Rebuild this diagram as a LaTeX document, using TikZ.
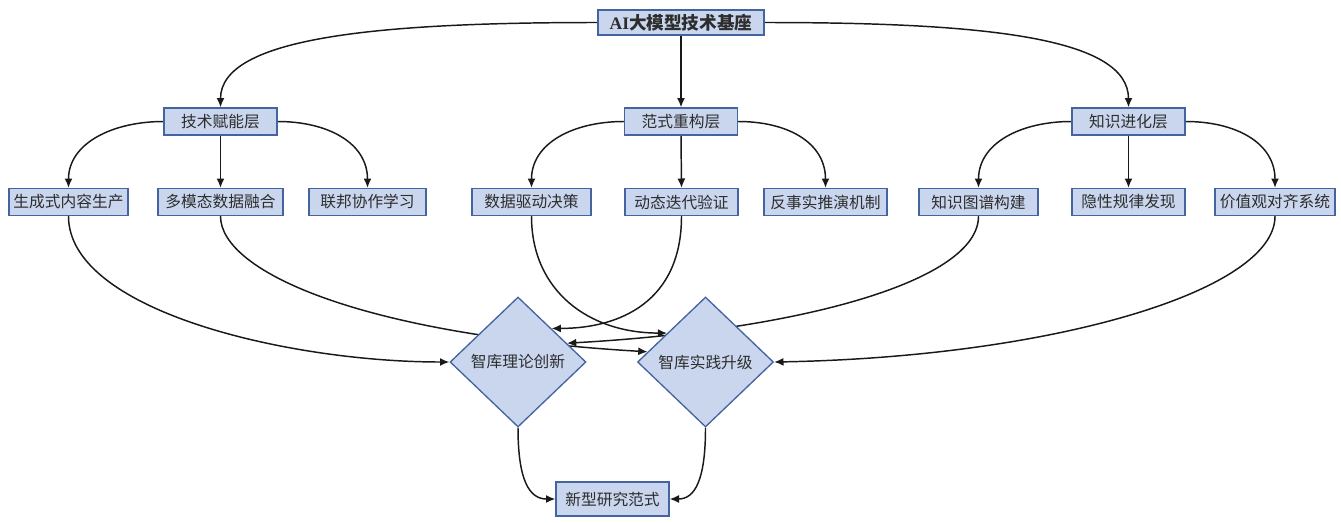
\documentclass[tikz,border=0pt]{standalone}
\usepackage{fontspec}
\setmainfont{Noto Sans CJK SC}
\newfontfamily\latinserif{Liberation Serif}
\usetikzlibrary{shapes.geometric,arrows.meta,backgrounds}
\definecolor{boxfill}{RGB}{201,214,238}
\definecolor{boxdraw}{RGB}{68,100,160}
\definecolor{txt}{RGB}{45,45,45}
\definecolor{edge}{RGB}{25,25,25}
\tikzset{
  box/.style={draw=boxdraw,fill=boxfill,line width=1pt,text=txt,font=\fontsize{11.8pt}{13pt}\selectfont,
    inner xsep=3pt,inner ysep=0pt,minimum height=20.25pt,minimum width=84.75pt},
  topbox/.style={box,font=\fontsize{13.2pt}{14pt}\selectfont\bfseries,minimum width=124.5pt,minimum height=18.75pt},
  dia/.style={diamond,draw=boxdraw,fill=boxfill,line width=1pt,text=txt,font=\fontsize{11.8pt}{13pt}\selectfont,
    inner sep=0pt,minimum width=102pt,minimum height=97.5pt},
  conn/.style={draw=edge,line width=1.1pt,-{Latex[length=7pt,width=6pt]}}
}
\begin{document}
\begin{tikzpicture}[x=0.75pt,y=-0.75pt]
\useasboundingbox (0,0) rectangle (1341,522);
\node[topbox] (top) at (681,22.5) {{\latinserif\bfseries AI}大模型技术基座};
\node[box] (L1) at (220.5,121.5) {技术赋能层};
\node[box] (L2) at (681,121.5) {范式重构层};
\node[box] (L3) at (1128.5,121.5) {知识进化层};
\node[box,minimum width=89.25pt] (c1) at (68.5,202) {生成式内容生产};
\node[box,minimum width=93.75pt] (c2) at (220.5,202) {多模态数据融合};
\node[box,minimum width=87.75pt] (c3) at (367.5,202) {联邦协作学习};
\node[box,minimum width=89.25pt] (c4) at (531.5,202) {数据驱动决策};
\node[box] (c5) at (681.5,202) {动态迭代验证};
\node[box,minimum width=92.25pt] (c6) at (825.5,202) {反事实推演机制};
\node[box,minimum width=89.25pt] (c7) at (978.5,202) {知识图谱构建};
\node[box] (c8) at (1128.5,202) {隐性规律发现};
\node[box,minimum width=90pt] (c9) at (1275,202) {价值观对齐系统};
\node[dia] (li) at (518,362) {智库理论创新};
\node[dia] (shi) at (705.5,362) {智库实践升级};
\node[box,minimum height=25.5pt] (xin) at (612.5,499) {新型研究范式};
\begin{scope}[on background layer]
\draw[conn] (top.west) .. controls +(-220,0) and +(0,-70) .. (L1.north);
\draw[conn] (top.east) .. controls +(220,0) and +(0,-70) .. (L3.north);
\draw[conn] (top.south) -- (L2.north);
\draw[conn] (L1.west) .. controls +(-50,0) and +(0,-45) .. (c1.north);
\draw[conn] (L1.south) -- (c2.north);
\draw[conn] (L1.east) .. controls +(50,0) and +(0,-45) .. (c3.north);
\draw[conn] (L2.west) .. controls +(-50,0) and +(0,-45) .. (c4.north);
\draw[conn] (L2.south) -- (c5.north);
\draw[conn] (L2.east) .. controls +(50,0) and +(0,-45) .. (c6.north);
\draw[conn] (L3.west) .. controls +(-50,0) and +(0,-45) .. (c7.north);
\draw[conn] (L3.south) -- (c8.north);
\draw[conn] (L3.east) .. controls +(50,0) and +(0,-45) .. (c9.north);
\draw[conn] (c1.south) .. controls +(0,95) and +(-160,0) .. (li.west);
\draw[conn] (c2.south) .. controls +(0,55) and +(-288,-17) .. (shi.170);
\draw[conn] (c7.south) .. controls +(0,65) and +(233,-13) .. (li.21);
\draw[conn] (c4.south) .. controls +(0,75) and +(-78,0) .. (shi.143);
\draw[conn] (c5.south) .. controls +(0,85) and +(69,0) .. (li.45);
\draw[conn] (c9.south) .. controls +(0,75) and +(277,-5) .. (shi.east);
\draw[conn] (li.south) .. controls +(0,53) and +(-26,0) .. (xin.west);
\draw[conn] (shi.south) .. controls +(0,53) and +(25,0) .. (xin.east);
\end{scope}
\end{tikzpicture}
\end{document}
